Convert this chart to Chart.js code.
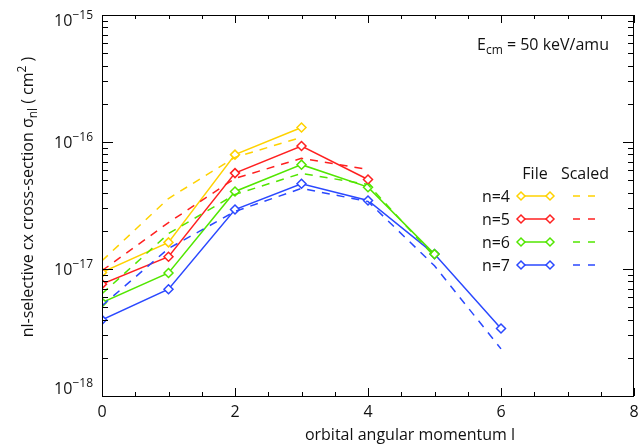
<!DOCTYPE html>
<html><head><meta charset="utf-8">
<script src="https://cdn.jsdelivr.net/npm/chart.js@4/dist/chart.umd.min.js"></script>
<style>html,body{margin:0;padding:0;background:#fff;}</style>
</head><body>
<canvas id="c" width="640" height="444"></canvas>
<script>
// ---- data ----
const lValues = [0, 1, 2, 3, 4, 5, 6];
const seriesNames = ['n=4', 'n=5', 'n=6', 'n=7'];
const fileN4 = [9.4e-18, 1.62e-17, 7.95e-17, 1.30e-16];
const fileN5 = [7.6e-18, 1.25e-17, 5.69e-17, 9.3e-17, 5.07e-17];
const fileN6 = [5.45e-18, 9.3e-18, 4.08e-17, 6.63e-17, 4.41e-17, 1.31e-17];
const fileN7 = [3.98e-18, 6.93e-18, 2.94e-17, 4.69e-17, 3.46e-17, 1.31e-17, 3.4e-18];
const scaledN4 = [1.16e-17, 3.59e-17, 7.57e-17, 1.09e-16];
const scaledN5 = [9.7e-18, 2.32e-17, 5.17e-17, 7.43e-17, 6.08e-17];
const scaledN6 = [6.38e-18, 1.90e-17, 3.86e-17, 5.66e-17, 4.63e-17, 1.25e-17];
const scaledN7 = [5.14e-18, 1.45e-17, 2.84e-17, 4.31e-17, 3.40e-17, 1.06e-17, 2.35e-18];
const xTickLabels = [0, 2, 4, 6, 8];
const xMinorStep = 0.5;
const yTickExponents = [-18, -17, -16, -15];
const xTitle = 'orbital angular momentum l';
const annotation = ['E', 'cm', ' = 50 keV/amu'];
const legendHeaders = ['File', 'Scaled'];

const colors = ['#ffd200', '#ff2020', '#52e600', '#2a48ff'];
const FONT = '"Open Sans", "Noto Sans", sans-serif';

function pts(vals) { return vals.map((v, i) => ({ x: lValues[i], y: v })); }

const fileSets = [fileN4, fileN5, fileN6, fileN7];
const scaledSets = [scaledN4, scaledN5, scaledN6, scaledN7];
const datasets = [];
scaledSets.forEach((s, i) => datasets.push({
  label: seriesNames[i] + ' Scaled', data: pts(s), borderColor: colors[i],
  borderWidth: 1.5, borderDash: [8, 7], pointRadius: 0, fill: false, tension: 0
}));
fileSets.forEach((s, i) => datasets.push({
  label: seriesNames[i] + ' File', data: pts(s), borderColor: colors[i],
  borderWidth: 1.5, pointStyle: 'rectRot', pointRadius: 4.5, pointBorderWidth: 1.5,
  pointBackgroundColor: '#fff', pointBorderColor: colors[i], fill: false, tension: 0
}));

function drawRich(ctx, pieces, x, y, align) {
  let total = 0;
  pieces.forEach(p => { ctx.font = p[1] + 'px ' + FONT; total += ctx.measureText(p[0]).width; });
  let cx = align === 'center' ? x - total / 2 : (align === 'right' ? x - total : x);
  ctx.textAlign = 'left';
  pieces.forEach(p => {
    ctx.font = p[1] + 'px ' + FONT;
    ctx.fillText(p[0], cx, y + p[2]);
    cx += ctx.measureText(p[0]).width;
  });
}

const decor = {
  id: 'decor',
  afterDraw(chart) {
    const ctx = chart.ctx, xs = chart.scales.x, ys = chart.scales.y, a = chart.chartArea;
    ctx.save();
    ctx.strokeStyle = '#000'; ctx.fillStyle = '#111'; ctx.lineWidth = 1;
    ctx.strokeRect(a.left + 0.5, a.top + 0.5, a.right - a.left - 1, a.bottom - a.top);
    ctx.beginPath();
    for (let v = xs.min; v <= xs.max + 1e-9; v += xMinorStep) {
      const px = Math.round(xs.getPixelForValue(v)) + 0.5;
      const major = xTickLabels.includes(v);
      const len = major ? 8 : 4;
      ctx.moveTo(px, a.bottom); ctx.lineTo(px, a.bottom - len);
      ctx.moveTo(px, a.top); ctx.lineTo(px, a.top + len);
    }
    yTickExponents.forEach((e, k) => {
      for (let m = 1; m <= 9; m++) {
        if (k === yTickExponents.length - 1 && m > 1) break;
        const v = m * Math.pow(10, e);
        const py = Math.round(ys.getPixelForValue(v)) + 0.5;
        const len = m === 1 ? 11 : 6;
        ctx.moveTo(a.left, py); ctx.lineTo(a.left + len, py);
        ctx.moveTo(a.right, py); ctx.lineTo(a.right - len, py);
      }
    });
    ctx.stroke();
    ctx.textBaseline = 'middle';
    ctx.font = '16px ' + FONT; ctx.textAlign = 'center';
    xTickLabels.forEach(v => {
      ctx.fillText(String(v), xs.getPixelForValue(v), a.bottom + 16);
    });
    yTickExponents.forEach(e => {
      let py = ys.getPixelForValue(Math.pow(10, e));
      py = Math.max(a.top + 5, Math.min(a.bottom - 8, py));
      ctx.textBaseline = 'alphabetic';
      drawRich(ctx, [['10', 16, 0], [String(e).replace('-', '\u2212'), 12, -7]], 93, py + 6, 'right');
    });
    ctx.textBaseline = 'alphabetic';
    ctx.font = '16px ' + FONT; ctx.textAlign = 'center';
    ctx.fillText(xTitle, 410, 440);
    ctx.save();
    ctx.translate(33, 197);
    ctx.rotate(-Math.PI / 2);
    drawRich(ctx, [['nl-selective cx cross-section \u03c3', 16, 0], ['nl', 12, 4], [' ( cm', 16, 0], ['2', 12, -7], [' )', 16, 0]], 0, 0, 'center');
    ctx.restore();
    drawRich(ctx, [[annotation[0], 16, 0], [annotation[1], 12, 4], [annotation[2], 16, 0]], 477, 50, 'left');
    ctx.font = '16px ' + FONT; ctx.textAlign = 'center';
    ctx.fillText(legendHeaders[0], 535, 179);
    ctx.fillText(legendHeaders[1], 585, 179);
    const rowY = [196, 219, 242, 265];
    seriesNames.forEach((n, i) => {
      const y = rowY[i];
      ctx.fillStyle = '#111'; ctx.textAlign = 'right'; ctx.font = '16px ' + FONT;
      ctx.fillText(n, 510, y + 6);
      ctx.strokeStyle = colors[i]; ctx.lineWidth = 1.5;
      ctx.setLineDash([]);
      ctx.beginPath(); ctx.moveTo(521, y); ctx.lineTo(550, y); ctx.stroke();
      [521, 550].forEach(px => {
        ctx.beginPath();
        ctx.moveTo(px - 4, y); ctx.lineTo(px, y - 4); ctx.lineTo(px + 4, y); ctx.lineTo(px, y + 4); ctx.closePath();
        ctx.fillStyle = '#fff'; ctx.fill(); ctx.stroke();
      });
      ctx.setLineDash([7, 8]);
      ctx.beginPath(); ctx.moveTo(573, y); ctx.lineTo(596, y); ctx.stroke();
      ctx.setLineDash([]);
    });
    ctx.restore();
  }
};

new Chart(document.getElementById('c'), {
  type: 'line',
  data: { datasets },
  options: {
    responsive: false, animation: false, devicePixelRatio: 1,
    layout: { padding: { left: 102, right: 4, top: 15, bottom: 48 } },
    plugins: { legend: { display: false }, tooltip: { enabled: false } },
    scales: {
      x: { type: 'linear', min: 0, max: 8, display: false },
      y: { type: 'logarithmic', min: 1e-18, max: 1e-15, display: false }
    }
  },
  plugins: [decor]
});
</script>
</body></html>
